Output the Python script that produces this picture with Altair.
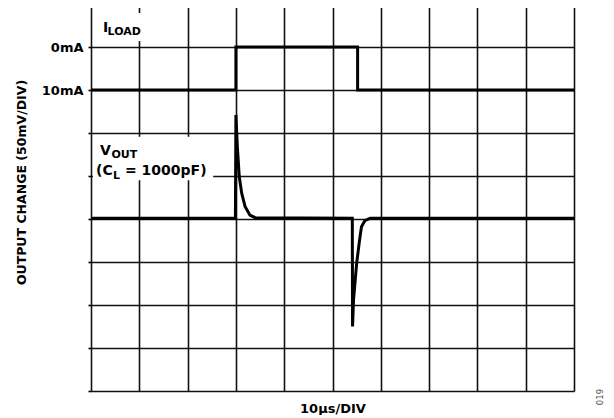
import altair as alt
import pandas as pd

# ---- data (x in µs, y in divisions from bottom) ----
iload_t = [0, 30, 30, 55.2, 55.2, 100]
iload_v = [7, 7, 8, 8, 7, 7]

vout_t = [0, 29.9, 30.0, 30.3, 30.7, 31.2, 31.9, 32.9, 34.0,
          54.1, 54.15, 54.35, 55.0, 55.6, 56.0, 56.7, 57.8, 100]
vout_v = [4.02, 4.02, 6.42, 5.68, 4.98, 4.6, 4.29, 4.09, 4.03,
          4.02, 1.5, 2.12, 2.97, 3.51, 3.82, 3.96, 4.02, 4.02]

y_ticks = list(range(0, 10))
x_ticks = list(range(0, 101, 10))

# label pieces: main text (large) and subscripts (small)
big_text = ["I", "V", "(C", "= 1000pF)"]
big_x = [2.48, 1.86, 1.04, 7.04]
big_y = [8.35, 5.48, 5.02, 5.02]

sub_text = ["LOAD", "OUT", "L"]
sub_x = [3.42, 4.24, 4.55]
sub_y = [8.28, 5.42, 4.93]

# white boxes behind labels
box_x = [0.4, 0.4]
box_x2 = [11.4, 25.3]
box_y = [8.14, 4.9]
box_y2 = [8.79, 5.91]

FONT = "DejaVu Sans"

lines = pd.DataFrame({
    "t": iload_t + vout_t,
    "v": iload_v + vout_v,
    "s": ["ILOAD"] * len(iload_t) + ["VOUT"] * len(vout_t),
    "o": list(range(len(iload_t))) + list(range(len(vout_t))),
})
big = pd.DataFrame({"text": big_text, "x": big_x, "y": big_y})
sub = pd.DataFrame({"text": sub_text, "x": sub_x, "y": sub_y})
boxes = pd.DataFrame({"x": box_x, "x2": box_x2, "y": box_y, "y2": box_y2})
note = pd.DataFrame({"text": ["019"], "x": [105.4], "y": [-0.14]})

label_expr = "datum.value == 8 ? '0mA' : (datum.value == 7 ? '10mA' : '')"

xscale = alt.Scale(domain=[0, 100], nice=False, zero=False)
yscale = alt.Scale(domain=[0, 9], nice=False, zero=False)

xax = alt.Axis(values=x_ticks, labels=False, ticks=False, domain=False,
               grid=True, gridColor="#111111", gridWidth=1.6, gridOpacity=1,
               title="10µs/DIV", titleFont=FONT, titleFontSize=13,
               titleFontWeight="bold", titleColor="black",
               titleY=21, titleBaseline="alphabetic")
yax = alt.Axis(values=y_ticks, labelExpr=label_expr, ticks=True, tickSize=3,
               tickColor="black", tickWidth=1.6, domain=False,
               grid=True, gridColor="#111111", gridWidth=1.6, gridOpacity=1,
               labelFont=FONT, labelFontSize=13, labelFontWeight="bold",
               labelColor="black", labelPadding=5,
               title="OUTPUT CHANGE (50mV/DIV)", titleFont=FONT, titleFontSize=12.5,
               titleFontWeight="bold", titleColor="black",
               titleX=-70, titleY=178, titleAngle=270,
               titleAlign="center", titleBaseline="middle")

base_lines = alt.Chart(lines).mark_line(color="black", strokeWidth=3,
                                        strokeJoin="miter").encode(
    x=alt.X("t:Q", scale=xscale, axis=xax),
    y=alt.Y("v:Q", scale=yscale, axis=yax),
    detail="s:N",
    order="o:Q",
)

box_layer = alt.Chart(boxes).mark_rect(color="white").encode(
    x=alt.X("x:Q", scale=xscale), x2="x2:Q",
    y=alt.Y("y:Q", scale=yscale), y2="y2:Q",
)

big_layer = alt.Chart(big).mark_text(font=FONT, fontWeight="bold", fontSize=14,
                                     color="black", align="left",
                                     baseline="alphabetic").encode(
    x=alt.X("x:Q", scale=xscale),
    y=alt.Y("y:Q", scale=yscale),
    text="text:N",
)

sub_layer = alt.Chart(sub).mark_text(font=FONT, fontWeight="bold", fontSize=11,
                                     color="black", align="left",
                                     baseline="alphabetic").encode(
    x=alt.X("x:Q", scale=xscale),
    y=alt.Y("y:Q", scale=yscale),
    text="text:N",
)

note_layer = alt.Chart(note).mark_text(font=FONT, fontSize=8.5, color="#555",
                                       angle=270, align="center",
                                       baseline="middle").encode(
    x=alt.X("x:Q", scale=xscale),
    y=alt.Y("y:Q", scale=yscale),
    text="text:N",
)

chart = alt.layer(box_layer, base_lines, big_layer, sub_layer, note_layer).properties(
    width=483, height=387,
    autosize=alt.AutoSizeParams(type="none"),
    padding={"left": 83, "top": -4, "right": 32, "bottom": 24},
).configure_view(stroke="black", strokeWidth=2.6).configure(background="white")

chart.save("out.html", embed_options={"renderer": "svg", "actions": False})
